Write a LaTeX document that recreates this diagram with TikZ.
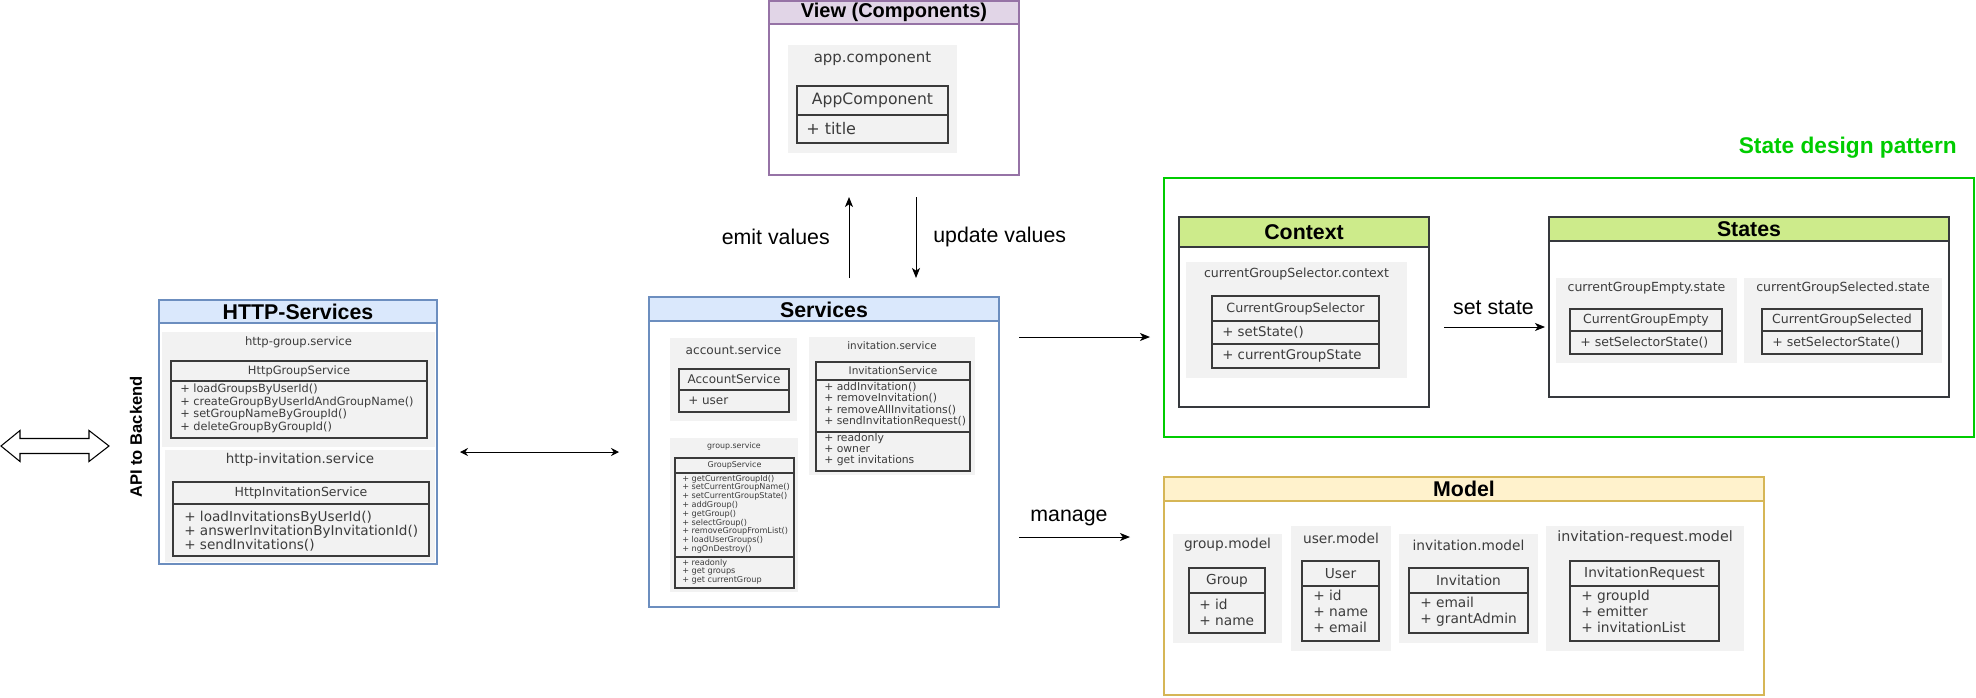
\documentclass[tikz,border=0pt]{standalone}
\usepackage{fontspec}
\setmainfont{Liberation Sans}
\newfontfamily\umlfont{DejaVu Sans}
\usetikzlibrary{fit,arrows.meta}
\definecolor{srvfill}{HTML}{DAE8FC}
\definecolor{srvline}{HTML}{6C8EBF}
\definecolor{viewfill}{HTML}{E1D5E7}
\definecolor{viewline}{HTML}{9673A6}
\definecolor{statefill}{HTML}{CDEB8B}
\definecolor{stateline}{HTML}{36393D}
\definecolor{modelfill}{HTML}{FFF2CC}
\definecolor{modelline}{HTML}{D6B656}
\definecolor{sdpgreen}{HTML}{00CC00}
\definecolor{pkgfill}{HTML}{F2F2F2}
\definecolor{umltext}{HTML}{3C3C3C}
\definecolor{clsline}{HTML}{3A3A3A}
\newcommand{\pbox}[4]{%
  \path (#3) coordinate (#2-a) (#4) coordinate (#2-b);
  \node[#1, fit=(#2-a)(#2-b), inner sep=0pt] (#2) {};}
\begin{document}
\begin{tikzpicture}[x=0.75pt,y=-0.75pt,
  panel/.style={draw=#1, fill=white, line width=0.8pt},
  panelhead/.style 2 args={draw=#1, fill=#2, line width=0.8pt},
  pkg/.style={fill=pkgfill},
  cls/.style={draw=clsline, fill=pkgfill, line width=1pt},
  clsdiv/.style={draw=clsline, line width=1pt},
  title/.style={inner sep=0pt, font=\bfseries\fontsize{#1}{#1}\selectfont},
  title/.default=16,
  lbl/.style={inner sep=0pt, font=\fontsize{16}{16}\selectfont},
  uml/.style={text=umltext, inner sep=0pt, font=\umlfont\fontsize{#1}{#1}\selectfont},
  members/.style 2 args={text=umltext, inner sep=0pt, anchor=west, align=left, font=\umlfont\fontsize{#1}{#2}\selectfont},
  arr/.style={-{Stealth[length=7.5pt,width=6pt,inset=2pt]}, line width=0.75pt},
  darr/.style={{Stealth[length=6pt,width=6pt,inset=2pt]}-{Stealth[length=6pt,width=6pt,inset=2pt]}, line width=0.75pt}]
\useasboundingbox (0,0) rectangle (1976,697);

\pbox{panel=viewline}{view}{769,1}{1019,175}
\pbox{panelhead={viewline}{viewfill}}{viewh}{769,1}{1019,24}
\node[title=15] (viewt) at (894,12.5) {View (Components)};
\pbox{pkg}{appg}{788,45}{957,153}
\node[uml=11.2] (appl) at (872.5,59) {app.component};
\pbox{cls}{appc}{797,86}{948,143}
\draw[clsdiv] (797,115) -- (948,115);
\node[uml=11.7] (appn) at (872.5,100.5) {AppComponent};
\node[members={12}{13}] (appm) at (806,129) {+ title};

\coordinate (emitA) at (849,278);
\coordinate (emitB) at (849,197);
\draw[arr] (emitA) -- (emitB);
\coordinate (updA) at (916,197);
\coordinate (updB) at (916,278);
\draw[arr] (updA) -- (updB);
\node[lbl, anchor=east] (emitl) at (830,237) {emit values};
\node[lbl, anchor=west] (updl) at (933,237) {update values};

\pbox{panel=srvline}{srv}{649,297}{999,607}
\pbox{panelhead={srvline}{srvfill}}{srvh}{649,297}{999,321}
\node[title] (srvt) at (824,309.5) {Services};
\pbox{pkg}{accg}{670,338}{797,421}
\node[uml=9.1] (accl) at (733.5,349.5) {account.service};
\pbox{cls}{accc}{679,369}{789,412}
\draw[clsdiv] (679,390) -- (789,390);
\node[uml=9] (accn) at (734,379.5) {AccountService};
\node[members={9}{10}] (accm) at (688,401) {+ user};
\pbox{pkg}{invg}{809,337}{975,475}
\node[uml=7.8] (invl) at (892,345.5) {invitation.service};
\pbox{cls}{invc}{816,362}{970,471}
\draw[clsdiv] (816,380) -- (970,380);
\draw[clsdiv] (816,432) -- (970,432);
\node[uml=7.9] (invn) at (893,371) {InvitationService};
\node[members={8.1}{8.3}] (invm) at (824,404.5) {+ addInvitation()\\+ removeInvitation()\\+ removeAllInvitations()\\+ sendInvitationRequest()};
\node[members={8.1}{8.6}] (inva) at (824,449.5) {+ readonly\\+ owner\\+ get invitations};
\pbox{pkg}{grpg}{670,438}{798,592}
\node[uml=5.9] (grpl) at (734,446) {group.service};
\pbox{cls}{grpc}{675,458}{794,588}
\draw[clsdiv] (675,473) -- (794,473);
\draw[clsdiv] (675,557) -- (794,557);
\node[uml=6] (grpn) at (734.5,465.5) {GroupService};
\node[members={6.1}{6.6}] (grpm) at (682,514) {+ getCurrentGroupId()\\+ setCurrentGroupName()\\+ setCurrentGroupState()\\+ addGroup()\\+ getGroup()\\+ selectGroup()\\+ removeGroupFromList()\\+ loadUserGroups()\\+ ngOnDestroy()};
\node[members={6.1}{6.5}] (grpa) at (682,571.5) {+ readonly\\+ get groups\\+ get currentGroup};

\pbox{panel=srvline}{http}{159,300}{437,564}
\pbox{panelhead={srvline}{srvfill}}{httph}{159,300}{437,323}
\node[title] (httpt) at (298,311.5) {HTTP-Services};
\pbox{pkg}{hgrg}{162,332}{435,447}
\node[uml=8.7] (hgrl) at (298.5,342) {http-group.service};
\pbox{cls}{hgrc}{171,361}{427,438}
\draw[clsdiv] (171,381) -- (427,381);
\node[uml=8.6] (hgrn) at (299,371) {HttpGroupService};
\node[members={8.5}{9.4}] (hgrm) at (180,408.5) {+ loadGroupsByUserId()\\+ createGroupByUserIdAndGroupName()\\+ setGroupNameByGroupId()\\+ deleteGroupByGroupId()};
\pbox{pkg}{hinvg}{165,450}{435,562}
\node[uml=10.1] (hinvl) at (300,460) {http-invitation.service};
\pbox{cls}{hinvc}{173,482}{429,556}
\draw[clsdiv] (173,504) -- (429,504);
\node[uml=9.4] (hinvn) at (301,493) {HttpInvitationService};
\node[members={10.2}{10.5}] (hinvm) at (184,531) {+ loadInvitationsByUserId()\\+ answerInvitationByInvitationId()\\+ sendInvitations()};

\node[title=12.4, rotate=90] (apil) at (136,437) {API to Backend};
\draw[line width=0.8pt, fill=white] (1,446) -- (20,430.5) -- (20,438.5) -- (89,438.5) -- (89,430.5) -- (109,446) -- (89,461.5) -- (89,453.5) -- (20,453.5) -- (20,461.5) -- cycle;
\coordinate (httpR) at (460,452);
\coordinate (srvL) at (619,452);
\draw[darr] (httpR) -- (srvL);

\pbox{panel=sdpgreen}{sdp}{1164,178}{1974,437}
\node[title=17, text=sdpgreen, anchor=east] (sdpt) at (1957,148) {State design pattern};
\pbox{panel=stateline}{ctx}{1179,217}{1429,407}
\pbox{panelhead={stateline}{statefill}}{ctxh}{1179,217}{1429,247}
\node[title] (ctxt) at (1304,232) {Context};
\pbox{pkg}{ctxg}{1186,262}{1407,378}
\node[uml=9.4] (ctxl) at (1296.5,274) {currentGroupSelector.context};
\pbox{cls}{ctxc}{1212,296}{1379,368}
\draw[clsdiv] (1212,321) -- (1379,321);
\draw[clsdiv] (1212,344) -- (1379,344);
\node[uml=9.5] (ctxn) at (1295.5,308.5) {CurrentGroupSelector};
\node[members={10}{10}] (ctxm) at (1222,332.5) {+ setState()};
\node[members={10}{10}] (ctxa) at (1222,356) {+ currentGroupState};

\coordinate (setA) at (1444,327);
\coordinate (setB) at (1545,327);
\draw[arr] (setA) -- (setB);
\node[lbl] (setl) at (1493.5,308) {set state};

\pbox{panel=stateline}{sts}{1549,217}{1949,397}
\pbox{panelhead={stateline}{statefill}}{stsh}{1549,217}{1949,241}
\node[title] (stst) at (1749,229) {States};
\pbox{pkg}{emg}{1556,278}{1737,363}
\node[uml=9.4] (eml) at (1646.5,288) {currentGroupEmpty.state};
\pbox{cls}{emc}{1570,309}{1722,354}
\draw[clsdiv] (1570,331) -- (1722,331);
\node[uml=9.4] (emn) at (1646,320) {CurrentGroupEmpty};
\node[members={9.4}{9.4}] (emm) at (1580,342.5) {+ setSelectorState()};
\pbox{pkg}{selg}{1744,278}{1942,363}
\node[uml=9.4] (sell) at (1843,288) {currentGroupSelected.state};
\pbox{cls}{selc}{1762,309}{1922,354}
\draw[clsdiv] (1762,331) -- (1922,331);
\node[uml=9.4] (seln) at (1842,320) {CurrentGroupSelected};
\node[members={9.4}{9.4}] (selm) at (1772,342.5) {+ setSelectorState()};

\coordinate (srvS) at (1019,337);
\coordinate (sdpW) at (1150,337);
\draw[arr] (srvS) -- (sdpW);
\coordinate (srvM) at (1019,537);
\coordinate (mdlW) at (1130,537);
\draw[arr] (srvM) -- (mdlW);
\node[lbl] (mngl) at (1069,518) {manage};

\pbox{panel=modelline}{mdl}{1164,477}{1764,695}
\pbox{panelhead={modelline}{modelfill}}{mdlh}{1164,477}{1764,501}
\node[title] (mdlt) at (1464,489) {Model};
\pbox{pkg}{gmg}{1173,534}{1282,643}
\node[uml=10.3] (gml) at (1227.5,545) {group.model};
\pbox{cls}{gmc}{1189,568}{1265,633}
\draw[clsdiv] (1189,593) -- (1265,593);
\node[uml=10.3] (gmn) at (1227,580.5) {Group};
\node[members={10.3}{11.8}] (gmm) at (1199,612) {+ id\\+ name};
\pbox{pkg}{usrg}{1291,526}{1391,651}
\node[uml=10.3] (usrl) at (1341,538) {user.model};
\pbox{cls}{usrc}{1302,561}{1379,641}
\draw[clsdiv] (1302,586) -- (1379,586);
\node[uml=10.3] (usrn) at (1340.5,573.5) {User};
\node[members={10.3}{11.8}] (usrm) at (1313,611.5) {+ id\\+ name\\+ email};
\pbox{pkg}{imdg}{1399,534}{1538,643}
\node[uml=10.3] (imdl) at (1468.5,545) {invitation.model};
\pbox{cls}{imdc}{1409,568}{1528,633}
\draw[clsdiv] (1409,593) -- (1528,593);
\node[uml=10.3] (imdn) at (1468.5,580.5) {Invitation};
\node[members={10.3}{11.8}] (imdm) at (1420,612) {+ email\\+ grantAdmin};
\pbox{pkg}{irqg}{1546,526}{1744,651}
\node[uml=10.7] (irql) at (1645,538) {invitation-request.model};
\pbox{cls}{irqc}{1570,561}{1719,641}
\draw[clsdiv] (1570,586) -- (1719,586);
\node[uml=10.3] (irqn) at (1644.5,573.5) {InvitationRequest};
\node[members={10.3}{11.8}] (irqm) at (1581,611.5) {+ groupId\\+ emitter\\+ invitationList};
\end{tikzpicture}
\end{document}
